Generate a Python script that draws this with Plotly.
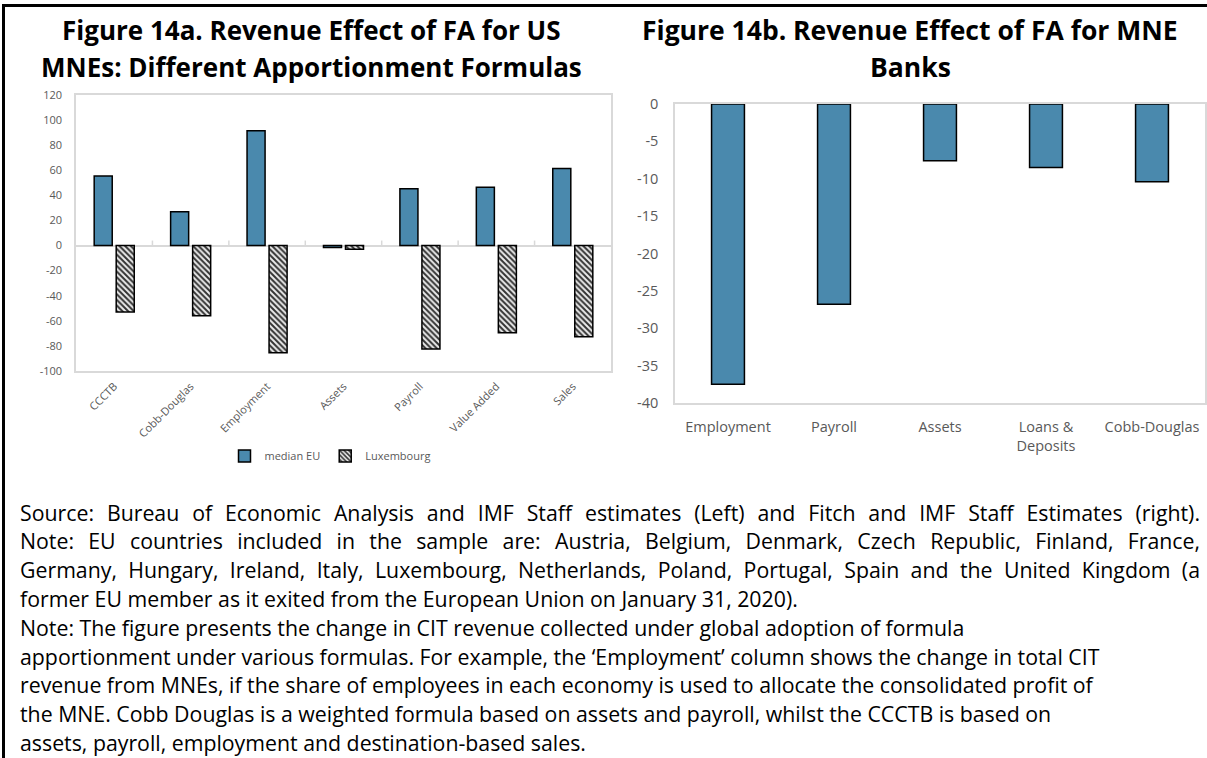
import json
import plotly.graph_objects as go

#====================================================
# DATA
#====================================================

formulas_us = ["CCCTB", "Cobb-Douglas", "Employment", "Assets",
               "Payroll", "Value Added", "Sales"]
median_eu = [55.5, 27, 91.5, -1.5, 45.3, 46.4, 61.5]
luxembourg = [-53, -56, -85.5, -3, -82.5, -69.5, -72.7]

formulas_banks = ["Employment", "Payroll", "Assets",
                  "Loans &<br>Deposits", "Cobb-Douglas"]
banks_effect = [-37.5, -26.8, -7.6, -8.5, -10.4]

left_ticks = list(range(-100, 121, 20))
right_ticks = list(range(-40, 1, 5))

title_a = ["Figure 14a. Revenue Effect of FA for US",
           "MNEs: Different Apportionment Formulas"]
title_b = ["Figure 14b. Revenue Effect of FA for MNE", "Banks"]

notes = [
    "Source: Bureau of Economic Analysis and IMF Staff estimates (Left) and Fitch and IMF Staff Estimates (right).",
    "Note: EU countries included in the sample are: Austria, Belgium, Denmark, Czech Republic, Finland, France,",
    "Germany, Hungary, Ireland, Italy, Luxembourg, Netherlands, Poland, Portugal, Spain and the United Kingdom (a",
    "former EU member as it exited from the European Union on January 31, 2020).",
    "Note: The figure presents the change in CIT revenue collected under global adoption of formula",
    "apportionment under various formulas. For example, the \u2018Employment\u2019 column shows the change in total CIT",
    "revenue from MNEs, if the share of employees in each economy is used to allocate the consolidated profit of",
    "the MNE. Cobb Douglas is a weighted formula based on assets and payroll, whilst the CCCTB is based on",
    "assets, payroll, employment and destination-based sales.",
]
justified = notes[:3]   # first paragraph is justified in the source

#====================================================
# STYLE
#====================================================

W, H = 1207, 758
BLUE = "#4a89ad"
GREY_TXT = "#595959"
GRID = "#d9d9d9"
FONT = "Open Sans"
TEXT_LEFT, TEXT_RIGHT = 18, 1198


def px_x(v):
    return v / W


def px_y(v):
    return 1 - v / H


fig = go.Figure()

#====================================================
# LEFT CHART
#====================================================

fig.add_trace(go.Bar(
    x=formulas_us, y=median_eu, name="median EU",
    marker=dict(color=BLUE, line=dict(color="black", width=1.5)),
    width=0.236, offset=-0.262,
    xaxis="x", yaxis="y"
))

fig.add_trace(go.Bar(
    x=formulas_us, y=luxembourg, name="Luxembourg",
    marker=dict(
        color="#ececec",
        line=dict(color="black", width=1.5),
        pattern=dict(shape="\\", fgcolor="#333333", bgcolor="#ececec",
                     size=4, solidity=0.5)
    ),
    width=0.236, offset=0.026,
    xaxis="x", yaxis="y"
))

#====================================================
# RIGHT CHART
#====================================================

fig.add_trace(go.Bar(
    x=formulas_banks, y=banks_effect, showlegend=False,
    marker=dict(color=BLUE, line=dict(color="black", width=1.5)),
    width=0.31, offset=-0.155,
    xaxis="x2", yaxis="y2"
))

# small tick marks on the zero lines at category boundaries
shapes = []
for i in range(len(formulas_us) - 1):
    shapes.append(dict(type="line", xref="x", yref="y",
                       x0=i + 0.5, x1=i + 0.5,
                       ysizemode="pixel", yanchor=0, y0=0, y1=5,
                       line=dict(color=GRID, width=1.5)))
for i in range(len(formulas_banks) - 1):
    shapes.append(dict(type="line", xref="x2", yref="y2",
                       x0=i + 0.5, x1=i + 0.5,
                       ysizemode="pixel", yanchor=0, y0=0, y1=7,
                       line=dict(color=GRID, width=1.5)))

# frame
shapes.append(dict(type="rect", xref="paper", yref="paper", layer="above",
                   x0=px_x(2), x1=px_x(5), y0=0, y1=px_y(4),
                   fillcolor="black", line=dict(width=0)))
shapes.append(dict(type="rect", xref="paper", yref="paper", layer="above",
                   x0=px_x(2), x1=1, y0=px_y(7), y1=px_y(4),
                   fillcolor="black", line=dict(width=0)))

#====================================================
# TEXT
#====================================================

annotations = []
for txt, yc in zip(title_a, [30, 67]):
    annotations.append(dict(text="<b>" + txt + "</b>", x=px_x(311), y=px_y(yc),
                            xref="paper", yref="paper", showarrow=False,
                            xanchor="center", yanchor="middle",
                            font=dict(family=FONT, size=26, color="black")))
for txt, yc in zip(title_b, [30, 67]):
    annotations.append(dict(text="<b>" + txt + "</b>", x=px_x(910), y=px_y(yc),
                            xref="paper", yref="paper", showarrow=False,
                            xanchor="center", yanchor="middle",
                            font=dict(family=FONT, size=26.5, color="black")))

for k, line in enumerate(notes):
    annotations.append(dict(text=line, x=px_x(TEXT_LEFT), y=px_y(512 + k * 28.8),
                            xref="paper", yref="paper", showarrow=False,
                            xanchor="left", yanchor="middle",
                            font=dict(family=FONT, size=21.3, color="black")))

#====================================================
# LAYOUT
#====================================================

fig.update_layout(
    template="none",
    width=W, height=H,
    autosize=False,
    margin=dict(l=0, r=0, t=0, b=0, pad=0),
    paper_bgcolor="white", plot_bgcolor="white",
    barmode="overlay",
    font=dict(family=FONT, color=GREY_TXT),
    showlegend=True,
    legend=dict(orientation="h", x=px_x(330), y=px_y(456),
                xanchor="center", yanchor="middle",
                font=dict(size=11, color=GREY_TXT),
                itemwidth=30, bgcolor="rgba(0,0,0,0)"),
    xaxis=dict(domain=[px_x(76), px_x(611)], anchor="y", automargin=False,
               showline=True, mirror=True, linecolor=GRID, linewidth=1.5,
               showgrid=False, tickangle=-45, ticks="", ticklabelstandoff=3,
               tickfont=dict(size=11, color=GREY_TXT)),
    yaxis=dict(domain=[px_y(371), px_y(95)], anchor="x", automargin=False,
               range=[-100, 120], tickvals=left_ticks,
               ticktext=[str(v) for v in left_ticks],
               showline=True, mirror=True, linecolor=GRID, linewidth=1.5,
               showgrid=False, zeroline=True, zerolinecolor=GRID,
               zerolinewidth=1.5, ticks="", ticklabelstandoff=10,
               tickfont=dict(size=11, color=GREY_TXT)),
    xaxis2=dict(domain=[px_x(675), px_x(1205)], anchor="y2", automargin=False,
                showline=True, mirror=True, linecolor=GRID, linewidth=1.5,
                showgrid=False, ticks="", tickangle=0, ticklabelstandoff=10,
                tickfont=dict(size=14.5, color=GREY_TXT)),
    yaxis2=dict(domain=[px_y(403), px_y(104)], anchor="x2", automargin=False,
                range=[-40, 0], tickvals=right_ticks,
                ticktext=[str(v) for v in right_ticks],
                showline=True, mirror=True, linecolor=GRID, linewidth=1.5,
                showgrid=False, zeroline=False, ticks="", ticklabelstandoff=12,
                tickfont=dict(size=14.5, color=GREY_TXT)),
    shapes=shapes,
    annotations=annotations,
)

# stretch the word spacing of the justified lines so they run to the margin;
# plotly centres annotation text, so shift it right by half of the growth
justify_js = """
var jl = %s, target = %d;
gd.querySelectorAll('text.annotation-text').forEach(function(t){
  var s = t.textContent;
  if (jl.indexOf(s) >= 0) {
    var n = (s.match(/ /g) || []).length;
    var w = t.getComputedTextLength();
    if (n > 0 && w < target) {
      t.style.wordSpacing = ((target - w) / n) + 'px';
      var d = (t.getComputedTextLength() - w) / 2;
      var x0 = parseFloat(t.getAttribute('x') || 0);
      t.setAttribute('x', x0 + d);
      t.querySelectorAll('tspan[x]').forEach(function(ts){
        ts.setAttribute('x', parseFloat(ts.getAttribute('x')) + d);
      });
    }
  }
});
""" % (json.dumps(justified), TEXT_RIGHT - TEXT_LEFT)

fig.write_html(
    "out.html",
    config={"displayModeBar": False},
    post_script=(
        "var gd=document.getElementById('{plot_id}');"
        "gd.style.position='fixed';gd.style.top='0px';gd.style.left='0px';"
        "document.body.style.margin='0';document.body.style.overflow='hidden';"
        + justify_js
    ),
)
